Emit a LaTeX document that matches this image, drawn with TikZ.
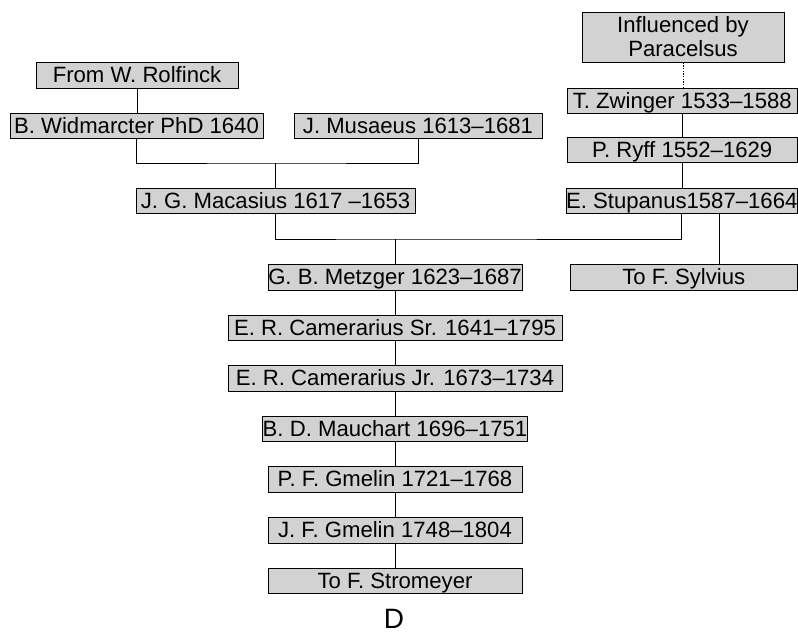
\documentclass[tikz,border=0pt]{standalone}
\usepackage{fontspec}
\setmainfont{Liberation Sans}
\usetikzlibrary{calc}

\tikzset{
  kin/.style={draw, fill=gray!35, line width=0.75pt, inner sep=0pt,
    font=\fontsize{16.6}{18}\selectfont},
  pers/.style={kin, text height=11.9pt, text depth=0pt},
  sz/.style 2 args={minimum width=#1*0.75pt, minimum height=#2*0.75pt},
  link/.style={line width=0.75pt}
}

\begin{document}
\begin{tikzpicture}[x=0.75pt,y=-0.75pt]
  \useasboundingbox (0,0) rectangle (798,632);

  % left branch
  \node[pers, sz={202}{26}] (rolf) at (137,75) {From W. Rolfinck};
  \node[pers, sz={253}{25}] (widm) at (136.5,125.5) {B. Widmarcter PhD 1640};
  \node[pers, sz={248}{25}] (musa) at (418,125.5) {J. Musaeus 1613--1681};
  \node[pers, sz={279}{25}] (maca) at (275.5,200.5) {J. G. Macasius 1617 --1653};

  % right branch
  \node[kin, sz={202}{50}, align=center] (infl) at (683,37) {Influenced by\\Paracelsus};
  \node[pers, sz={230.5}{25}] (zwin) at (682.25,100.5) {T. Zwinger 1533--1588};
  \node[pers, sz={230.5}{25}] (ryff) at (682.25,149.5) {P. Ryff 1552--1629};
  \node[pers, sz={231.5}{25}] (stup) at (681.75,200.5) {E. Stupanus1587--1664};
  \node[pers, sz={227.5}{26}] (sylv) at (683.75,277) {To F. Sylvius};

  % main line
  \node[pers, sz={254}{26}] (metz) at (395,277) {G. B. Metzger 1623--1687};
  \node[pers, sz={334}{25}] (camsr) at (395,327.5) {E. R. Camerarius Sr. 1641--1795};
  \node[pers, sz={334}{26}] (camjr) at (395,378) {E. R. Camerarius Jr. 1673--1734};
  \node[pers, sz={264}{25}] (mauc) at (395,428.5) {B. D. Mauchart 1696--1751};
  \node[pers, sz={254}{26}] (pfgm) at (395,479) {P. F. Gmelin 1721--1768};
  \node[pers, sz={254}{26}] (jfgm) at (395,530) {J. F. Gmelin 1748--1804};
  \node[pers, sz={254}{25}] (stro) at (395,580.5) {To F. Stromeyer};

  \node[font=\fontsize{21}{24}\selectfont, inner sep=0pt, text height=15pt,
    text depth=0pt] (tag) at (394,618) {D};

  % connectors
  \coordinate (upj) at (275.5,163);
  \coordinate (lowj) at (395,239);
  \coordinate (sylj) at (719,239);
  \draw[link] (rolf.south) -- (rolf.south |- widm.north);
  \draw[link] (widm.south) |- (upj) -| (musa.south);
  \draw[link] (upj) -- (maca.north);
  \draw[link, dash pattern=on 1pt off 1pt] (infl.south) -- (infl.south |- zwin.north);
  \draw[link] (zwin) -- (ryff);
  \draw[link] (ryff.south) -- (ryff.south |- stup.north);
  \draw[link] (maca.south) |- (lowj) -| (stup.south);
  \draw[link] (lowj) -- (metz.north);
  \draw[link] (stup.south -| sylj) -- (sylv.north -| sylj);
  \foreach \a/\b in {metz/camsr, camsr/camjr, camjr/mauc, mauc/pfgm, pfgm/jfgm, jfgm/stro}
    \draw[link] (\a) -- (\b);
\end{tikzpicture}
\end{document}
